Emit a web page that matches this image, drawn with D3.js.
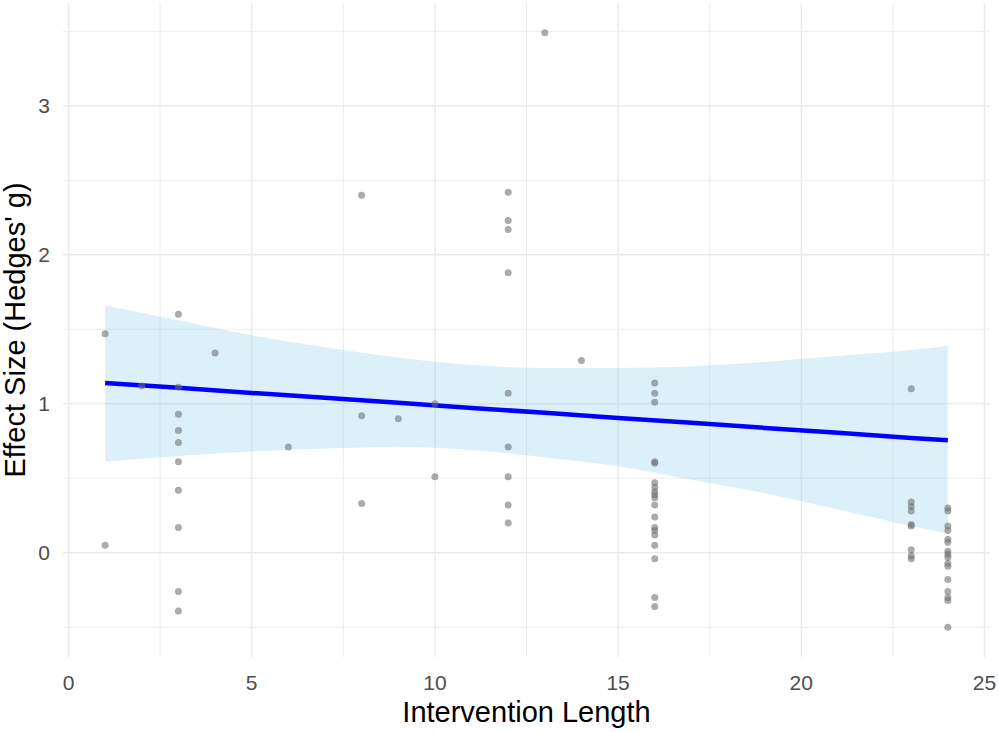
<!DOCTYPE html>
<html>
<head>
<meta charset="utf-8">
<script src="https://cdn.jsdelivr.net/npm/d3@7"></script>
<style>
  body { margin: 0; background: #fff; }
  svg { display: block; font-family: "Liberation Sans", Arial, sans-serif; }
</style>
</head>
<body>
<div class="vis-scatter"></div>
<script>
// intervention length (weeks) and effect size (Hedges' g)
const lengths = [
  1, 1,
  2,
  3, 3, 3, 3, 3, 3, 3, 3, 3, 3,
  4,
  6,
  8, 8, 8,
  9,
  10, 10,
  12, 12, 12, 12, 12, 12, 12, 12, 12,
  13,
  14,
  16, 16, 16, 16, 16, 16, 16, 16, 16, 16, 16, 16, 16, 16, 16, 16, 16, 16, 16,
  23, 23, 23, 23, 23, 23, 23, 23, 23,
  24, 24, 24, 24, 24, 24, 24, 24, 24, 24, 24, 24, 24, 24, 24, 24
]
const effects = [
  1.47, 0.05,
  1.12,
  1.60, 1.11, 0.93, 0.82, 0.74, 0.61, 0.42, 0.17, -0.26, -0.39,
  1.34,
  0.71,
  2.40, 0.92, 0.33,
  0.90,
  1.00, 0.51,
  2.42, 2.23, 2.17, 1.88, 1.07, 0.71, 0.51, 0.32, 0.20,
  3.49,
  1.29,
  1.14, 1.07, 1.01, 0.61, 0.60, 0.47, 0.44, 0.41, 0.39, 0.37, 0.32, 0.24, 0.17, 0.15, 0.12, 0.05, -0.04, -0.30, -0.36,
  1.10, 0.34, 0.31, 0.28, 0.19, 0.18, 0.02, -0.02, -0.04,
  0.30, 0.28, 0.18, 0.15, 0.09, 0.07, 0.01, -0.01, -0.03, -0.07, -0.09, -0.18, -0.26, -0.30, -0.32, -0.50
]

// fitted regression line and its 95% band
const fitX     = [1,     3,     5,     7,     9,     11,    13,    15,    17,    19,    21,    23,    24]
const fitY     = [1.140, 1.107, 1.073, 1.040, 1.006, 0.972, 0.939, 0.905, 0.872, 0.838, 0.805, 0.771, 0.755]
const fitLower = [0.61,  0.65,  0.68,  0.70,  0.71,  0.69,  0.64,  0.58,  0.49,  0.40,  0.29,  0.18,  0.13]
const fitUpper = [1.66,  1.56,  1.46,  1.38,  1.31,  1.26,  1.24,  1.24,  1.25,  1.28,  1.32,  1.36,  1.39]

const xTicks = [0, 5, 10, 15, 20, 25]
const yTicks = [0, 1, 2, 3]
const xMinor = [2.5, 7.5, 12.5, 17.5, 22.5]
const yMinor = [-0.5, 0.5, 1.5, 2.5, 3.5]

const data = lengths.map((x, i) => ({ x: x, y: effects[i] }))
const fit = fitX.map((x, i) => ({ x: x, y: fitY[i], lo: fitLower[i], hi: fitUpper[i] }))

const width = 999
const height = 732
const margin = { top: 3, right: 9, bottom: 75, left: 63 }

const xExt = d3.extent(data, d => d.x)
const yExt = d3.extent(data, d => d.y)
const xPad = (xExt[1] - xExt[0]) * 0.05
const yPad = (yExt[1] - yExt[0]) * 0.05

const x = d3.scaleLinear()
  .domain([xExt[0] - xPad, xExt[1] + xPad])
  .range([margin.left, width - margin.right])
const y = d3.scaleLinear()
  .domain([yExt[0] - yPad, yExt[1] + yPad])
  .range([height - margin.bottom, margin.top])

const svg = d3.select('.vis-scatter')
  .append('svg')
  .attr('width', width)
  .attr('height', height)

// grid
const grid = svg.append('g')
grid.selectAll('.vminor').data(xMinor).enter().append('line')
  .attr('x1', d => x(d)).attr('x2', d => x(d))
  .attr('y1', margin.top).attr('y2', height - margin.bottom)
  .style('stroke', '#ebebeb').style('stroke-width', 0.9)
grid.selectAll('.hminor').data(yMinor).enter().append('line')
  .attr('y1', d => y(d)).attr('y2', d => y(d))
  .attr('x1', margin.left).attr('x2', width - margin.right)
  .style('stroke', '#ebebeb').style('stroke-width', 0.9)
grid.selectAll('.vmajor').data(xTicks).enter().append('line')
  .attr('x1', d => x(d)).attr('x2', d => x(d))
  .attr('y1', margin.top).attr('y2', height - margin.bottom)
  .style('stroke', '#ebebeb').style('stroke-width', 1.5)
grid.selectAll('.hmajor').data(yTicks).enter().append('line')
  .attr('y1', d => y(d)).attr('y2', d => y(d))
  .attr('x1', margin.left).attr('x2', width - margin.right)
  .style('stroke', '#ebebeb').style('stroke-width', 1.5)

// smooth
svg.append('path')
  .datum(fit)
  .attr('d', d3.area().curve(d3.curveMonotoneX).x(d => x(d.x)).y0(d => y(d.lo)).y1(d => y(d.hi)))
  .style('fill', 'skyblue')
  .style('fill-opacity', 0.3)

svg.append('path')
  .datum(fit)
  .attr('d', d3.line().x(d => x(d.x)).y(d => y(d.y)))
  .style('fill', 'none')
  .style('stroke', '#0000ff')
  .style('stroke-width', 4.5)

// points
svg.append('g')
  .selectAll('circle')
  .data(data)
  .enter()
  .append('circle')
  .attr('cx', d => x(d.x))
  .attr('cy', d => y(d.y))
  .attr('r', 3.5)
  .style('fill', '#6e6e6e')
  .style('fill-opacity', 0.58)

// tick labels
svg.append('g')
  .selectAll('text')
  .data(xTicks)
  .enter()
  .append('text')
  .attr('x', d => x(d))
  .attr('y', 690)
  .attr('text-anchor', 'middle')
  .style('font-size', '21px')
  .style('fill', '#4d4d4d')
  .text(d => d)

svg.append('g')
  .selectAll('text')
  .data(yTicks)
  .enter()
  .append('text')
  .attr('x', 50)
  .attr('y', d => y(d))
  .attr('dy', '0.36em')
  .attr('text-anchor', 'end')
  .style('font-size', '21px')
  .style('fill', '#4d4d4d')
  .text(d => d)

// axis titles
svg.append('text')
  .attr('x', (margin.left + width - margin.right) / 2)
  .attr('y', 722)
  .attr('text-anchor', 'middle')
  .style('font-size', '29px')
  .style('fill', '#000')
  .text('Intervention Length')

svg.append('text')
  .attr('transform', 'translate(25,' + (margin.top + height - margin.bottom) / 2 + ') rotate(-90)')
  .attr('text-anchor', 'middle')
  .style('font-size', '29px')
  .style('fill', '#000')
  .text("Effect Size (Hedges' g)")
</script>
</body>
</html>
